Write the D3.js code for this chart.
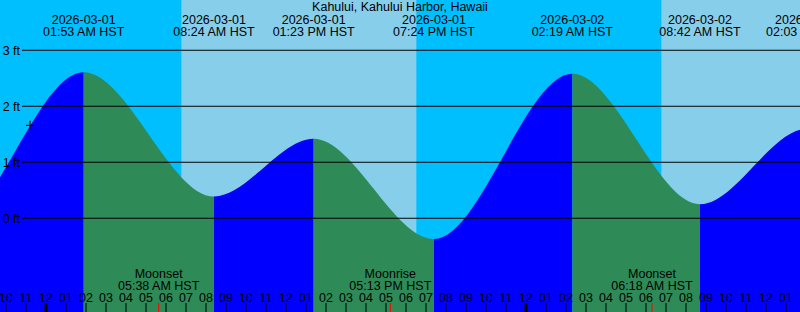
<!DOCTYPE html>
<html>
<head>
<meta charset="utf-8">
<script src="https://cdn.jsdelivr.net/npm/d3@7"></script>
<style>
  html, body { margin: 0; padding: 0; background: #fff; }
  svg { display: block; font-family: "Liberation Sans", Arial, sans-serif; }
</style>
</head>
<body>
<div id="chart"></div>
<script>
// Tide extremes (HST), heights in feet; first and last lie outside the view
const tideTimes = ["2026-02-28 12:50", "2026-02-28 19:05", "2026-03-01 01:53", "2026-03-01 08:24",
  "2026-03-01 13:23", "2026-03-01 19:24", "2026-03-02 02:19", "2026-03-02 08:42",
  "2026-03-02 14:03", "2026-03-02 20:20", "2026-03-03 02:50"];
const tideLevels = [1.45, -0.2, 2.61, 0.39, 1.42, -0.37, 2.58, 0.25, 1.6, -0.3, 2.5];

// Daylight periods
const dayStarts = ["2026-03-01 06:46", "2026-03-02 06:46"];
const dayEnds = ["2026-03-01 18:31", "2026-03-02 18:32"];

// Moon events
const moonTimes = ["2026-03-01 05:38", "2026-03-01 17:13", "2026-03-02 06:18"];
const moonEvents = ["Moonset", "Moonrise", "Moonset"];

// Gridline levels
const levelTicks = [0, 1, 2, 3];

// Current time mark
const nowTime = "2026-02-28 23:12";
const nowLevel = 1.66;

const title = "Kahului, Kahului Harbor, Hawaii";

const width = 800, height = 312;
const colors = {
  night: "#00bfff",
  day: "#87ceeb",
  flood: "#0000ff",
  ebb: "#2e8b57",
  moon: "#ff0000",
  fg: "#000"
};

const parse = d3.utcParse("%Y-%m-%d %H:%M");
const fmtDate = d3.utcFormat("%Y-%m-%d");
const fmtTime = d3.utcFormat("%I:%M %p HST");
const fmtHour = d3.utcFormat("%I");

const tides = tideTimes.map((t, i) => ({ time: parse(t), level: tideLevels[i] }));

const x = d3.scaleUtc()
  .domain([parse("2026-02-28 21:42"), parse("2026-03-02 13:42")])
  .range([0, width]);

const y = d3.scaleLinear()
  .domain([0, 3])
  .range([218.3, 50.3]);

const svg = d3.select("#chart").append("svg")
  .attr("width", width)
  .attr("height", height);

// Night background, then day bands
svg.append("rect")
  .attr("width", width).attr("height", height)
  .attr("fill", colors.night);

svg.append("g").selectAll("rect")
  .data(dayStarts.map((d, i) => [parse(d), parse(dayEnds[i])]))
  .join("rect")
  .attr("x", d => x(d[0]))
  .attr("width", d => x(d[1]) - x(d[0]))
  .attr("y", 0)
  .attr("height", height)
  .attr("fill", colors.day);

// Tide area, coloured flood/ebb between extremes
const area = d3.area()
  .x(d => x(d.time))
  .y0(height)
  .y1(d => y(d.level))
  .curve(d3.curveMonotoneX);

const segments = d3.pairs(tides);
const defs = svg.append("defs");
defs.selectAll("clipPath")
  .data(segments)
  .join("clipPath")
  .attr("id", (d, i) => "seg" + i)
  .append("rect")
  .attr("x", d => x(d[0].time))
  .attr("width", d => x(d[1].time) - x(d[0].time))
  .attr("y", 0)
  .attr("height", height);

svg.append("g").selectAll("path")
  .data(segments)
  .join("path")
  .attr("clip-path", (d, i) => `url(#seg${i})`)
  .attr("d", area(tides))
  .attr("fill", d => d[1].level > d[0].level ? colors.flood : colors.ebb);

// Level gridlines
const grid = svg.append("g");
grid.selectAll("line")
  .data(levelTicks)
  .join("line")
  .attr("x1", 22).attr("x2", width)
  .attr("y1", d => y(d)).attr("y2", d => y(d))
  .attr("stroke", colors.fg)
  .attr("stroke-width", 1.1);
grid.selectAll("text")
  .data(levelTicks)
  .join("text")
  .attr("x", 20)
  .attr("y", d => y(d) + 4.3)
  .attr("text-anchor", "end")
  .attr("font-size", "12.5px")
  .attr("fill", colors.fg)
  .text(d => d + " ft");

// Title
svg.append("text")
  .attr("x", width / 2)
  .attr("y", 11)
  .attr("text-anchor", "middle")
  .attr("font-size", "12.5px")
  .attr("fill", colors.fg)
  .text(title);

// Tide extreme labels (only those near the visible window)
const shown = tides.filter(d => x(d.time) > -20 && x(d.time) < width + 20);
const tideLabels = svg.append("g")
  .selectAll("text")
  .data(shown)
  .join("text")
  .attr("text-anchor", "middle")
  .attr("font-size", "12.5px")
  .attr("fill", colors.fg);
tideLabels.append("tspan")
  .attr("x", d => x(d.time)).attr("y", 23.5)
  .text(d => fmtDate(d.time));
tideLabels.append("tspan")
  .attr("x", d => x(d.time)).attr("y", 36)
  .text(d => fmtTime(d.time));

// Hour ticks along the bottom
const hours = x.ticks(d3.utcHour.every(1));
const axis = svg.append("g");
axis.selectAll("line")
  .data(hours)
  .join("line")
  .attr("x1", d => x(d)).attr("x2", d => x(d))
  .attr("y1", 303).attr("y2", height)
  .attr("stroke", colors.fg)
  .attr("stroke-width", d => d.getUTCHours() === 0 ? 3 : 1);
axis.selectAll("text")
  .data(hours)
  .join("text")
  .attr("x", d => x(d))
  .attr("y", 302)
  .attr("text-anchor", "middle")
  .attr("font-size", "12.5px")
  .attr("fill", colors.fg)
  .text(d => fmtHour(d));

// Moon events
const moon = svg.append("g").selectAll("g")
  .data(moonTimes.map((t, i) => ({ time: parse(t), name: moonEvents[i] })))
  .join("g");
moon.append("line")
  .attr("x1", d => x(d.time)).attr("x2", d => x(d.time))
  .attr("y1", 303).attr("y2", height)
  .attr("stroke", colors.moon);
moon.append("text")
  .attr("x", d => x(d.time)).attr("y", 278)
  .attr("text-anchor", "middle")
  .attr("font-size", "12.5px")
  .attr("fill", colors.fg)
  .text(d => d.name);
moon.append("text")
  .attr("x", d => x(d.time)).attr("y", 290)
  .attr("text-anchor", "middle")
  .attr("font-size", "12.5px")
  .attr("fill", colors.fg)
  .text(d => fmtTime(d.time));

// "Now" mark
const nx = x(parse(nowTime)), ny = y(nowLevel);
svg.append("path")
  .attr("d", `M${nx - 4},${ny}H${nx + 4}M${nx},${ny - 4.5}V${ny + 4.5}`)
  .attr("stroke", colors.fg)
  .attr("stroke-width", 1.2)
  .attr("fill", "none");
</script>
</body>
</html>
